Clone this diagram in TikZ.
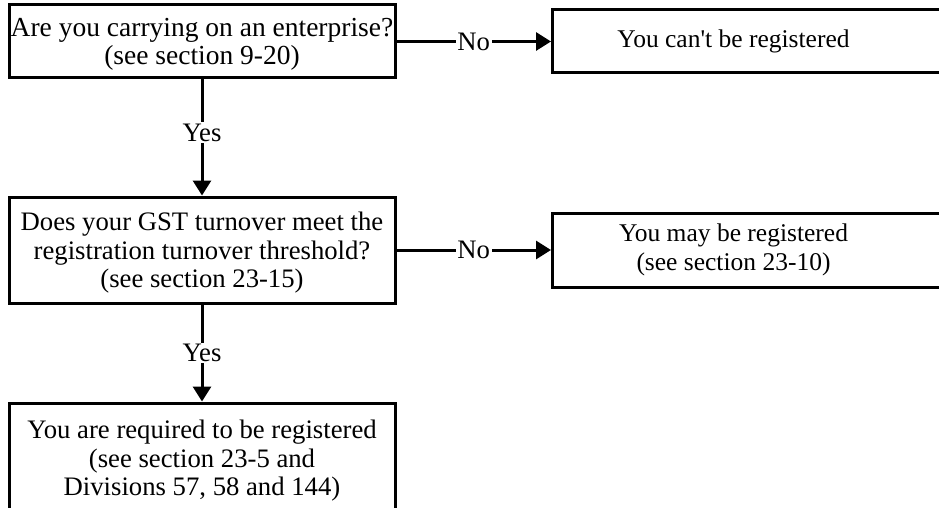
\documentclass[tikz,border=0pt]{standalone}
\usepackage{fontspec}
\setmainfont{Liberation Serif}
\usetikzlibrary{arrows.meta}
\begin{document}
\begin{tikzpicture}[x=1pt,y=-1pt,
  txt/.style={font=\fontsize{26.7}{28.5}\selectfont},
  box/.style={txt, draw, line width=3pt, rectangle, inner sep=0pt, align=center, text depth=0pt},
  rbox/.style={draw, line width=3pt, rectangle, inner sep=0pt, anchor=west, font=\fontsize{25.5}{28.5}\selectfont},
  lbl/.style={txt, fill=white, inner sep=1.5pt},
  arr/.style={line width=3pt, -{Triangle[length=15pt,width=18pt]}}]
\useasboundingbox (0,0) rectangle (939,508);
\node[box, minimum width=386pt, minimum height=73pt, font=\fontsize{27.5}{28.5}\selectfont] (q1) at (202,41.5)
  {Are you carrying on an enterprise?\\(see section 9-20)};
\node[rbox, minimum width=420pt, minimum height=63pt] (r1) at (551,41.5)
  {\parbox{362pt}{\centering You can\textquotesingle t be registered}\kern58pt};
\node[box, minimum width=386pt, minimum height=106pt] (q2) at (202,250)
  {Does your GST turnover meet the\\registration turnover threshold?\\(see section 23-15)};
\node[rbox, minimum width=420pt, minimum height=74pt] (r2) at (551,250)
  {\parbox{362pt}{\centering You may be registered\\(see section 23-10)}\kern58pt};
\node[box, minimum width=386pt, minimum height=110pt] (r3) at (202,458)
  {You are required to be registered\\(see section 23-5 and\\Divisions 57, 58 and 144)};
\draw[arr] (q1.east) -- node[lbl, midway] {No} (r1.west);
\draw[arr] (q2.east) -- node[lbl, midway] {No} (r2.west);
\draw[arr] (q1.south) -- node[lbl, pos=0.46] {Yes} (q2.north);
\draw[arr] (q2.south) -- node[lbl, midway] {Yes} (r3.north);
\end{tikzpicture}
\end{document}
